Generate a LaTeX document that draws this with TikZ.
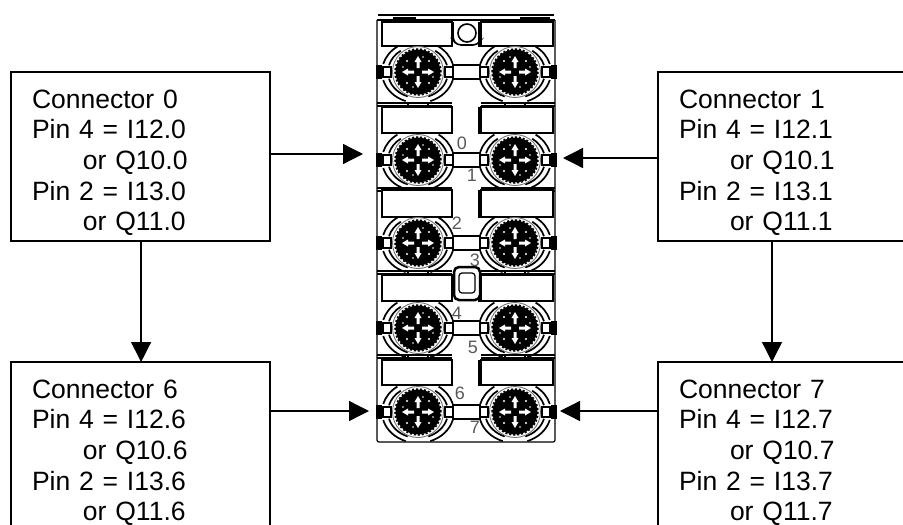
\documentclass[tikz,border=0pt]{standalone}
\usepackage{fontspec}
\setmainfont{Liberation Sans}
\usetikzlibrary{arrows.meta,positioning}
\newcommand{\pinlines}[1]{\rule{0pt}{31pt}Connector #1\\Pin 4 = I12.#1\\\hspace*{51pt}or Q10.#1\\Pin 2 = I13.#1\\\hspace*{51pt}or Q11.#1}
\tikzset{
  infobox/.style={draw, line width=1.3pt, outer sep=0pt, anchor=north west, align=left, text width=217pt,
    inner xsep=21pt, minimum height=169pt, font=\fontsize{26.5}{30.7}\selectfont},
  flow/.style={line width=1.3pt, -{Triangle[length=20pt,width=20pt]}},
  wall/.style={line width=1.2pt},
  digit/.style={text=black!65, inner sep=0pt, font=\fontsize{18}{18}\selectfont},
  plug/.pic={
    % side blocks
    \fill[black] (-42pt,-7pt) rectangle (-36pt,7pt);
    \draw[wall, fill=white] (27pt,-5pt) rectangle (35pt,5pt);
    \draw[wall, fill=white] (-35pt,-5pt) rectangle (-27pt,5pt);
    % outer rings
    \foreach \r/\s in {36/31,30/26} {
      \draw[line width=1.7pt] (195:\r pt and \s pt) arc[start angle=195,end angle=250,x radius=\r pt,y radius=\s pt];
      \draw[line width=1.7pt] (-15:\r pt and \s pt) arc[start angle=-15,end angle=-70,x radius=\r pt,y radius=\s pt];
      \draw[line width=1.7pt] (165:\r pt and \s pt) arc[start angle=165,end angle=125,x radius=\r pt,y radius=\s pt];
      \draw[line width=1.7pt] (15:\r pt and \s pt) arc[start angle=15,end angle=55,x radius=\r pt,y radius=\s pt];
    }
    % plug face
    \draw[black!55, line width=0.9pt, fill=white] (0,0) circle (25.5pt);
    \fill[black] (0,0) circle (22.5pt);
    \draw[black, line width=1.5pt, dash pattern=on 2pt off 2pt] (0,0) circle (23pt);
    \foreach \a in {0,90,180,270} {
      \fill[white, rotate=\a] (4pt,-1.5pt) rectangle (10pt,1.5pt) (10pt,-3.5pt) -- (16pt,0pt) -- (10pt,3.5pt) -- cycle;
      \fill[white, rotate=\a] (11pt,11pt) circle (1.1pt) (5pt,15pt) circle (.9pt);
    }
  }
}
\begin{document}
\begin{tikzpicture}[x=1pt, y=-1pt]
\useasboundingbox (0,0) rectangle (903,525);
\clip (0,0) rectangle (903,525);

% module body
\draw[wall, rounded corners=2pt] (377,20) -- (377,442) -- (555,442) -- (555,20);
\draw[line width=1.6pt] (378,15) -- (554,15);
\draw[line width=2.5pt] (393,18) -- (416,18) (520,18) -- (550,18);
\draw[wall] (377,20) -- (555,20);
\foreach \y in {105,190,273,357} {
  \draw[wall] (377,\y-2) -- (452,\y-2) (377,\y+1) -- (452,\y+1) (481,\y-2) -- (555,\y-2) (481,\y+1) -- (555,\y+1);
  \draw[line width=2pt] (408,\y-2) -- (408,\y+1) (428,\y-2) -- (428,\y+1) (505,\y-2) -- (505,\y+1) (525,\y-2) -- (525,\y+1);
}
\foreach \y/\h in {22/46,107/133,190/217,275/301,360/385} {
  \draw[wall, fill=white] (382,\y) rectangle (452,\h);
  \draw[wall, fill=white] (481,\y) rectangle (553,\h);
  \draw[line width=2pt] (382,\h) -- (452,\h) (479,\y) -- (479,\h) -- (553,\h);
}
\foreach \y in {72,160,243,328,412} {
  \draw[wall, fill=white] (453,\y-7) rectangle (480,\y+7);
  \pic at (418,\y) {plug};
  \pic[xscale=-1] at (515,\y) {plug};
}

% top tab and middle latch
\draw[line width=1.6pt, rounded corners=4pt] (453,22) -- (453,40) -- (457,45) -- (477,45) -- (481,40) -- (481,22);
\draw[line width=1.6pt] (467,33) circle (9pt);
\draw[line width=2.5pt, fill=white, rounded corners=5pt] (454,267) rectangle (480,300);
\draw[wall, rounded corners=3pt] (459,273) rectangle (475,293);

% port numbers
\foreach \n/\x/\y in {0/462/143,1/472/175,2/457/223,3/475/260,4/457/313,5/473/347,6/460/393,7/475/427} {
  \node[digit] (num\n) at (\x,\y) {\n};
}

% connector boxes
\node[infobox] (box0) at (11,72) {\pinlines{0}};
\node[infobox, right=388pt of box0] (box1) {\pinlines{1}};
\node[infobox, below=121pt of box0] (box6) {\pinlines{6}};
\node[infobox, below=121pt of box1] (box7) {\pinlines{7}};

% arrow ends on the module
\coordinate (tip0) at (363,154);
\coordinate (tip1) at (563,158);
\coordinate (tip6) at (369,411);
\coordinate (tip7) at (560,411);

\draw[flow] (box0.east |- tip0) -- (tip0);
\draw[flow] (box1.west |- tip1) -- (tip1);
\draw[flow] (box6.east |- tip6) -- (tip6);
\draw[flow] (box7.west |- tip7) -- (tip7);
\draw[flow] ([xshift=.6pt]box0.south) -- ([xshift=.6pt]box6.north);
\draw[flow] ([xshift=114pt]box1.south west) -- ([xshift=114pt]box7.north west);
\end{tikzpicture}
\end{document}
